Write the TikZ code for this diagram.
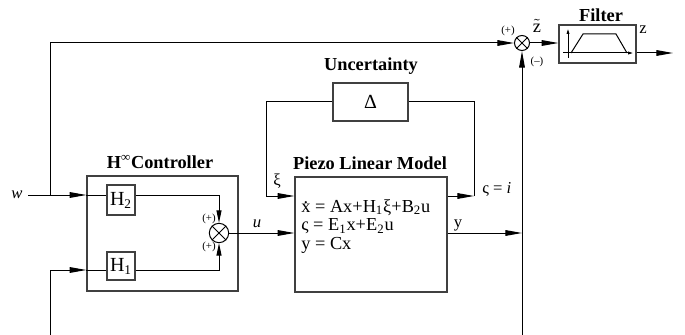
\documentclass[tikz,border=0pt]{standalone}
\usepackage{fontspec}
\setmainfont{Liberation Serif}
\usetikzlibrary{arrows.meta}

\newcommand{\xdot}{\ooalign{x\cr\hidewidth\raisebox{0.45em}{.}\hidewidth\cr}}

\begin{document}
\begin{tikzpicture}
  [x=0.6pt, y=-0.6pt,
   block/.style={draw=black!75, line width=0.8pt, inner sep=0pt},
   sumnode/.style={circle, draw=black, line width=0.6pt, inner sep=0pt},
   wire/.style={line width=0.6pt},
   sig/.style={wire, -{Triangle[length=10pt,width=3.4pt]}},
   sigs/.style={wire, -{Triangle[length=7.5pt,width=3pt]}},
   tick/.style={wire, -{Triangle[length=3pt,width=1.6pt]}},
   title/.style={font=\fontsize{11}{13}\selectfont\bfseries},
   lbl/.style={font=\fontsize{10}{12}\selectfont},
   eqn/.style={font=\fontsize{11}{12}\selectfont, anchor=base west, inner sep=0pt},
   sgn/.style={font=\fontsize{6.5}{7}\selectfont, inner sep=0pt}]

  \useasboundingbox (0,0) rectangle (685,335);

  % blocks
  \node[block, minimum width=90.6pt, minimum height=69pt] (ctrl) at (162.5,233.5) {};
  \node[block, minimum width=16.8pt, minimum height=18pt, font=\fontsize{12}{13}\selectfont] (h2) at (121,200) {H\textsubscript{2}};
  \node[block, minimum width=16.8pt, minimum height=16.8pt, font=\fontsize{12}{13}\selectfont] (h1) at (121,266) {H\textsubscript{1}};
  \node[sumnode, minimum size=11.6pt] (sum2) at (219,233) {};
  \node[block, minimum width=91.2pt, minimum height=69pt] (piezo) at (371,234.5) {};
  \node[block, minimum width=45pt, minimum height=22.8pt, font=\fontsize{12}{14}\selectfont] (delta) at (370.5,102) {Δ};
  \node[sumnode, minimum size=9pt] (sum1) at (522,43) {};
  \node[block, minimum width=46.2pt, minimum height=22.8pt] (filter) at (597.5,44) {};

  \foreach \s in {sum1,sum2}
    \draw[wire] (\s.north west) -- (\s.south east) (\s.north east) -- (\s.south west);

  % titles and labels
  \node[title] (ftitle) at (601,15) {Filter};
  \node[title] (utitle) at (371,66) {Uncertainty};
  \node[title] (ctitle) at (160,162) {H\textsuperscript{∞}Controller};
  \node[title] (ptitle) at (370,163) {Piezo Linear Model};

  \node[lbl] (w) at (17,195) {\textit{w}};
  \node[lbl, anchor=base] (ulbl) at (257,227) {\textit{u}};
  \node[lbl, anchor=base] (ylbl) at (458,227) {y};
  \node[lbl] (xilbl) at (277,181) {ξ};
  \node[lbl, anchor=base west, inner sep=0pt] (zetalbl) at (482,193) {ς = \textit{i}};
  \node[lbl, font=\fontsize{11}{12}\selectfont] (ztilde) at (537,26) {$\tilde{\mbox{z}}$};
  \node[lbl] (zlbl) at (643,30) {z};

  \node[sgn] (p1) at (508,31) {(+)};
  \node[sgn] (m1) at (537,62) {(–)};
  \node[sgn] (p2) at (209,219) {(+)};
  \node[sgn] (p3) at (209,247) {(+)};

  \node[eqn] (eq1) at (301,212) {\xdot{} = Ax+H\textsubscript{1}ξ+B\textsubscript{2}u};
  \node[eqn] (eq2) at (301,231) {ς = E\textsubscript{1}x+E\textsubscript{2}u};
  \node[eqn] (eq3) at (301,249) {y = Cx};

  % free ends and bends
  \coordinate (wj) at (50,195);
  \coordinate (bl) at (50,335);
  \coordinate (hj) at (50,270);
  \coordinate (xl) at (266,196);
  \coordinate (xr) at (474,196);
  \coordinate (yj) at (522,233);
  \coordinate (br) at (522,335);
  \coordinate (zo) at (673,53);

  % controller
  \draw[sig] (w) -- (ctrl.west |- wj);
  \draw[wire] (ctrl.west |- wj) -- (h2.west |- wj);
  \draw[wire] (bl) -- (hj);
  \draw[sig] (hj) -- (ctrl.west |- hj);
  \draw[wire] (ctrl.west |- hj) -- (h1.west |- hj);
  \draw[sigs] (h2.east |- wj) -| (sum2);
  \draw[sigs] (h1.east |- hj) -| (sum2);
  \draw[sig] (sum2) -- (sum2 -| piezo.west);

  % uncertainty loop
  \draw[wire] (delta.west) -| (xl);
  \draw[sig] (xl) -- (xl -| piezo.west);
  \draw[sig] (xr -| piezo.east) -- (xr);
  \draw[wire] (xr) |- (delta.east);

  % outputs
  \draw[sig] (yj -| piezo.east) -- (yj);
  \draw[sig] (wj) |- (sum1);
  \draw[sig] (br) -- (sum1);
  \draw[sig] (sum1) -- (sum1 -| filter.west);
  \draw[sig] (zo -| filter.east) -- (zo);

  % filter icon
  \draw[tick] (568,58) -- (568,29);
  \draw[tick] (563,53) -- (633,53);
  \draw[wire] (571,53) -- (583,34) -- (616,34) -- (627,53);
\end{tikzpicture}
\end{document}
